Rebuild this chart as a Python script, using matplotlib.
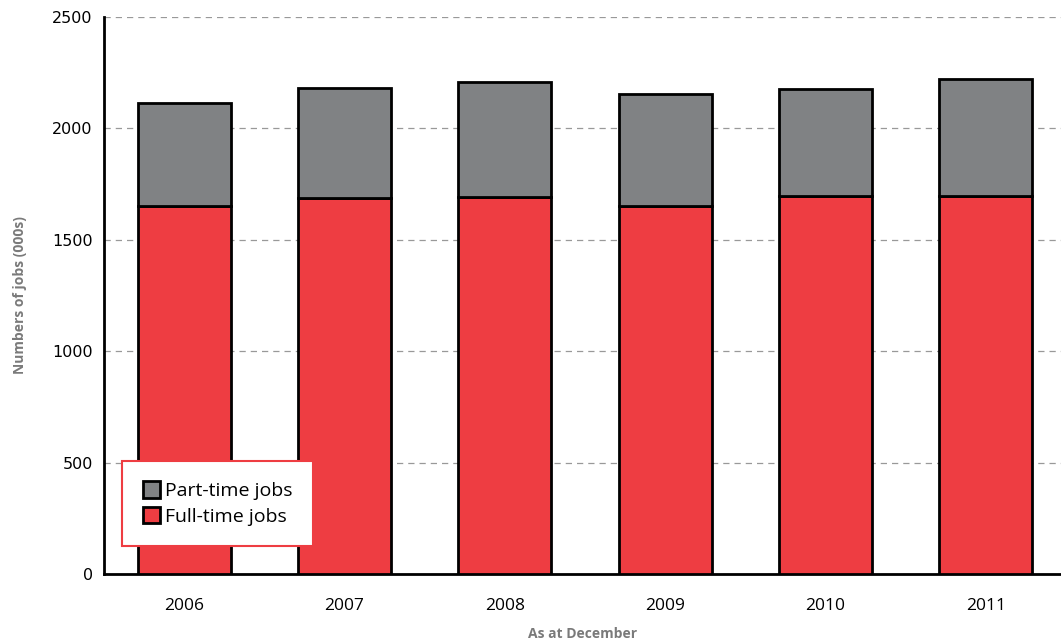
import matplotlib
matplotlib.use("Agg")
import matplotlib.pyplot as plt
import numpy as np

years = ['2006', '2007', '2008', '2009', '2010', '2011']
full_time = [1652, 1687, 1692, 1652, 1696, 1696]
part_time = [462, 494, 516, 502, 481, 526]

red = '#ee3d42'
grey = '#808284'

fig = plt.figure(figsize=(10.61, 6.44), dpi=100)
ax = fig.add_axes([0.098, 0.1087, 0.902, 0.8649])

x = np.arange(len(years))
ax.bar(x, full_time, width=0.58, color=red, edgecolor='black', linewidth=2,
       label='Full-time jobs', zorder=3)
ax.bar(x, part_time, width=0.58, bottom=full_time, color=grey, edgecolor='black',
       linewidth=2, label='Part-time jobs', zorder=3)

ax.set_xlim(-0.5, 5.47)
ax.set_ylim(0, 2500)
ax.set_yticks([0, 500, 1000, 1500, 2000, 2500])
ax.set_xticks(x)
ax.set_xticklabels(years, family='Open Sans', fontsize=12.5)
ax.tick_params(axis='y', length=0, labelsize=11.5, pad=8)
ax.tick_params(axis='x', length=0, pad=17)

ax.yaxis.grid(True, linestyle=(0, (5, 4)), color='#999999', linewidth=0.9)
ax.set_axisbelow(True)
for s in ['top', 'right']:
    ax.spines[s].set_visible(False)
ax.spines['left'].set_linewidth(2)
ax.spines['bottom'].set_linewidth(2)

ax.set_ylabel('Numbers of jobs (000s)', fontsize=10, fontweight='bold',
              color='#7a7a7a', family='Open Sans', labelpad=18)
ax.set_xlabel('As at December', fontsize=10, fontweight='bold',
              color='#7a7a7a', family='Open Sans', labelpad=10)

handles, labels = ax.get_legend_handles_labels()
leg = ax.legend(handles[::-1], labels[::-1], loc='lower left',
                bbox_to_anchor=(0.019, 0.05), fancybox=False,
                edgecolor=red, framealpha=1,
                prop={'family': 'Open Sans', 'size': 14},
                handlelength=0.9, handleheight=0.9, handletextpad=0.25,
                borderpad=1.05, borderaxespad=0, labelspacing=0.35)
leg.get_frame().set_linewidth(1.5)
leg.set_zorder(5)

fig.savefig('out.png', dpi=100)
